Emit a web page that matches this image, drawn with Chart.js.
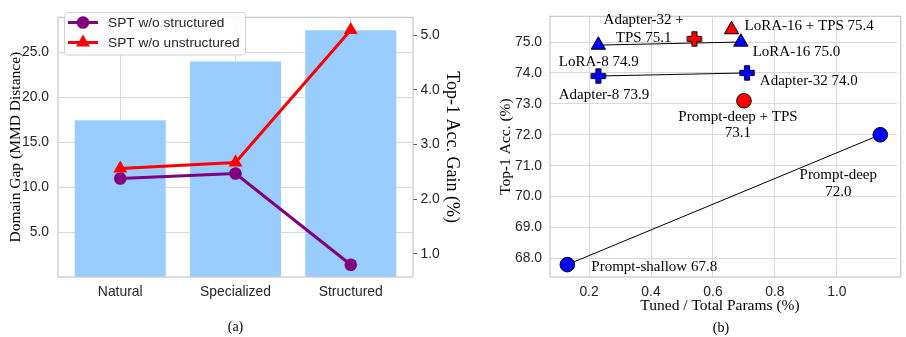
<!DOCTYPE html>
<html lang="en">
<head>
    <meta charset="UTF-8">
    <title>Domain gap and parameter efficiency</title>
    <script src="https://cdn.jsdelivr.net/npm/chart.js"></script>
    <style>
        body { margin: 0; background: #fff; overflow: hidden; }
        #leftChart { position: absolute; left: 0; top: 0; }
        #rightChart { position: absolute; left: 466px; top: 0; }
    </style>
</head>
<body>
    <canvas id="leftChart" width="466" height="337"></canvas>
    <canvas id="rightChart" width="440" height="337"></canvas>

    <script>
        // (a) domain gap vs gain
        const categories = ['Natural', 'Specialized', 'Structured'];
        const domainGap = [17.46, 23.98, 27.47];
        const gainWoStructured = [2.38, 2.47, 0.80];
        const gainWoUnstructured = [2.56, 2.67, 5.10];
        const gapTicks = [5, 10, 15, 20, 25];
        const gainTicks = [1, 2, 3, 4, 5];

        // (b) accuracy vs tuned params
        const methodNames = ['Prompt-shallow', 'Prompt-deep', 'Prompt-deep + TPS',
            'Adapter-8', 'Adapter-32', 'Adapter-32 + TPS',
            'LoRA-8', 'LoRA-16', 'LoRA-16 + TPS'];
        const tunedParams = [0.13, 1.14, 0.70, 0.23, 0.71, 0.54, 0.23, 0.69, 0.66];
        const top1Acc = [67.8, 72.0, 73.1, 73.9, 74.0, 75.1, 74.9, 75.0, 75.4];
        const linkedPairs = [[0, 1], [3, 4], [6, 7]];
        const accTicks = [68, 69, 70, 71, 72, 73, 74, 75];
        const paramTicks = [0.2, 0.4, 0.6, 0.8, 1.0];

        const SANS = '"Liberation Sans", Arial, sans-serif';
        const SERIF = '"Liberation Serif", "Times New Roman", serif';
        const GRID = '#d9d9d9';
        const FRAME = '#cccccc';
        const TICK_COLOR = '#262626';

        Chart.defaults.font.family = SANS;
        Chart.defaults.font.size = 13.9;
        Chart.defaults.color = TICK_COLOR;

        const markerStyle = ['circle', 'circle', 'circle', 'plus', 'plus', 'plus', 'triangle', 'triangle', 'triangle'];
        const markerColor = ['#0000ff', '#0000ff', '#ff0000', '#0000ff', '#0000ff', '#ff0000', '#0000ff', '#0000ff', '#ff0000'];
        // label offsets from the point (px), wrap = words on first line
        const labelLayout = [
            { dx: 24, dy: 2, align: 'left' },
            { dx: -42, dy: 40, align: 'center', wrap: 1, lh: 17.5 },
            { dx: -6, dy: 16.7, align: 'center', wrap: 3, lh: 16 },
            { dx: -39.6, dy: 19.5, align: 'left' },
            { dx: 12.8, dy: 7.7, align: 'left' },
            { dx: -50.7, dy: -19.2, align: 'center', wrap: 2, lh: 18 },
            { dx: -39.6, dy: 17.4, align: 'left' },
            { dx: 11.8, dy: 10, align: 'left' },
            { dx: 13, dy: -3.8, align: 'left' }
        ];

        function plusMarker(fill) {
            const c = document.createElement('canvas');
            c.width = 18; c.height = 18;
            const g = c.getContext('2d');
            const m = 9, a = 7.2, t = 2.6;
            g.beginPath();
            g.moveTo(m - t, m - a); g.lineTo(m + t, m - a); g.lineTo(m + t, m - t); g.lineTo(m + a, m - t);
            g.lineTo(m + a, m + t); g.lineTo(m + t, m + t); g.lineTo(m + t, m + a); g.lineTo(m - t, m + a);
            g.lineTo(m - t, m + t); g.lineTo(m - a, m + t); g.lineTo(m - a, m - t); g.lineTo(m - t, m - t);
            g.closePath();
            g.fillStyle = fill; g.fill();
            g.strokeStyle = '#000'; g.lineWidth = 1; g.stroke();
            return c;
        }

        function fixTicks(values) {
            return scale => { scale.ticks = values.map(v => ({ value: v })); };
        }

        const framePlugin = {
            id: 'frame',
            afterDatasetsDraw(chart, args, opts) {
                const a = chart.chartArea;
                const ctx = chart.ctx;
                ctx.save();
                ctx.strokeStyle = FRAME;
                ctx.lineWidth = 1.3;
                ctx.strokeRect(a.left, a.top, a.right - a.left + (opts.extendRight || 0), a.bottom - a.top);
                ctx.restore();
            }
        };

        function roundRect(ctx, x, y, w, h, r) {
            ctx.beginPath();
            ctx.moveTo(x + r, y);
            ctx.arcTo(x + w, y, x + w, y + h, r);
            ctx.arcTo(x + w, y + h, x, y + h, r);
            ctx.arcTo(x, y + h, x, y, r);
            ctx.arcTo(x, y, x + w, y, r);
            ctx.closePath();
        }

        const legendBox = {
            id: 'legendBox',
            afterDatasetsDraw(chart) {
                const ctx = chart.ctx;
                const sets = chart.data.datasets.filter(d => d.type === 'line').reverse();
                ctx.save();
                roundRect(ctx, 64.5, 12.5, 181, 42.5, 3);
                ctx.fillStyle = 'rgba(255,255,255,0.85)';
                ctx.fill();
                ctx.strokeStyle = '#d0d0d0';
                ctx.lineWidth = 1;
                ctx.stroke();
                sets.forEach((ds, i) => {
                    const y = 22.5 + i * 20;
                    ctx.strokeStyle = ds.borderColor;
                    ctx.lineWidth = ds.borderWidth;
                    ctx.beginPath();
                    ctx.moveTo(68, y); ctx.lineTo(98, y);
                    ctx.stroke();
                    ctx.fillStyle = ds.backgroundColor;
                    Chart.helpers.drawPoint(ctx, { pointStyle: ds.pointStyle, radius: ds.pointRadius, borderWidth: 0, rotation: 0 }, 83, y);
                    ctx.fillStyle = TICK_COLOR;
                    ctx.font = '13.7px ' + SANS;
                    ctx.textBaseline = 'middle';
                    ctx.textAlign = 'left';
                    ctx.fillText(ds.label, 108, y + 0.5);
                });
                ctx.restore();
            }
        };

        new Chart(document.getElementById('leftChart'), {
            type: 'bar',
            data: {
                datasets: [
                    {
                        type: 'line',
                        label: 'SPT w/o unstructured',
                        data: gainWoUnstructured.map((v, i) => ({ x: i, y: v })),
                        borderColor: '#ff0000',
                        backgroundColor: '#ff0000',
                        borderWidth: 3,
                        pointStyle: 'triangle',
                        pointRadius: 8,
                        pointBorderWidth: 0,
                        yAxisID: 'y1',
                        order: 0
                    },
                    {
                        type: 'line',
                        label: 'SPT w/o structured',
                        data: gainWoStructured.map((v, i) => ({ x: i, y: v })),
                        borderColor: '#800080',
                        backgroundColor: '#800080',
                        borderWidth: 3,
                        pointStyle: 'circle',
                        pointRadius: 6.3,
                        pointBorderWidth: 0,
                        yAxisID: 'y1',
                        order: 1
                    },
                    {
                        type: 'bar',
                        label: 'Domain Gap',
                        data: domainGap.map((v, i) => ({ x: i, y: v })),
                        backgroundColor: '#99ccff',
                        borderWidth: 0,
                        barPercentage: 0.79,
                        categoryPercentage: 1,
                        yAxisID: 'y',
                        order: 3
                    }
                ]
            },
            options: {
                responsive: false,
                animation: false,
                layout: { padding: { top: 5, left: 0, right: 0, bottom: 0 } },
                scales: {
                    x: {
                        type: 'linear',
                        min: -0.54,
                        max: 2.54,
                        offset: false,
                        grid: { color: GRID, offset: false, drawTicks: false },
                        border: { display: false },
                        afterBuildTicks: fixTicks([0, 1, 2]),
                        afterFit: s => { s.height = 42.2; },
                        ticks: { padding: 6.6, callback: v => categories[v] }
                    },
                    y: {
                        position: 'left',
                        min: 0,
                        max: 28.9,
                        grid: { color: GRID, drawTicks: false },
                        border: { display: false },
                        afterBuildTicks: fixTicks(gapTicks),
                        afterFit: s => { s.width = 58; },
                        ticks: { padding: 9, callback: v => v.toFixed(1) },
                        title: {
                            display: true,
                            text: 'Domain Gap (MMD Distance)',
                            color: '#000',
                            font: { family: SERIF, size: 15.5 },
                            padding: { top: 7, bottom: 0 }
                        }
                    },
                    y1: {
                        position: 'right',
                        min: 0.575,
                        max: 5.33,
                        grid: { drawOnChartArea: false, drawTicks: true, tickLength: 4, tickColor: '#555' },
                        border: { display: false },
                        afterBuildTicks: fixTicks(gainTicks),
                        afterFit: s => { s.width = 53; },
                        ticks: { padding: 3.5, callback: v => v.toFixed(1) },
                        title: {
                            display: true,
                            text: 'Top-1 Acc. Gain (%)',
                            color: '#000',
                            font: { family: SERIF, size: 18 },
                            padding: { top: 3, bottom: 0 }
                        }
                    }
                },
                plugins: {
                    legend: { display: false },
                    tooltip: { enabled: false },
                    title: {
                        display: true,
                        text: '(a)',
                        position: 'bottom',
                        fullSize: false,
                        color: '#000',
                        font: { family: SERIF, size: 14, weight: 'normal' },
                        padding: { top: 0, bottom: 1 }
                    }
                }
            },
            plugins: [framePlugin, legendBox]
        });

        const pointLabels = {
            id: 'pointLabels',
            afterDatasetsDraw(chart) {
                const { ctx, scales: { x, y } } = chart;
                ctx.save();
                ctx.font = '15px ' + SERIF;
                ctx.fillStyle = '#000';
                ctx.textBaseline = 'middle';
                methodNames.forEach((name, i) => {
                    const L = labelLayout[i];
                    const words = (name + ' ' + top1Acc[i].toFixed(1)).split(' ');
                    const lines = L.wrap ? [words.slice(0, L.wrap).join(' '), words.slice(L.wrap).join(' ')] : [words.join(' ')];
                    const px = x.getPixelForValue(tunedParams[i]) + L.dx;
                    const py = y.getPixelForValue(top1Acc[i]) + L.dy;
                    ctx.textAlign = L.align;
                    lines.forEach((t, k) => ctx.fillText(t, px, py + k * (L.lh || 17)));
                });
                // x title and panel caption
                ctx.textAlign = 'center';
                ctx.font = '15.5px ' + SERIF;
                ctx.fillText('Tuned / Total Params (%)', 254, 305.7);
                ctx.font = '14px ' + SERIF;
                ctx.fillText('(b)', 255, 328);
                ctx.restore();
            }
        };

        const linkSets = linkedPairs.map(([a, b]) => ({
            type: 'line',
            data: [{ x: tunedParams[a], y: top1Acc[a] }, { x: tunedParams[b], y: top1Acc[b] }],
            borderColor: '#000',
            borderWidth: 1,
            pointRadius: 0,
            showLine: true,
            order: 5
        }));

        const pointSets = methodNames.map((name, i) => ({
            label: name,
            data: [{ x: tunedParams[i], y: top1Acc[i] }],
            pointStyle: markerStyle[i] === 'plus' ? plusMarker(markerColor[i]) : markerStyle[i],
            pointRadius: markerStyle[i] === 'triangle' ? 8.3 : 7.3,
            pointBackgroundColor: markerColor[i],
            pointBorderColor: '#000',
            pointBorderWidth: 1,
            order: 1
        }));

        new Chart(document.getElementById('rightChart'), {
            type: 'scatter',
            data: { datasets: linkSets.concat(pointSets) },
            options: {
                responsive: false,
                animation: false,
                layout: { padding: { top: 5, left: 0, right: 0, bottom: 0 } },
                scales: {
                    x: {
                        type: 'linear',
                        min: 0.074,
                        max: 1.193,
                        grid: { color: GRID, drawTicks: false },
                        border: { display: false },
                        afterBuildTicks: fixTicks(paramTicks),
                        afterFit: s => { s.height = 60; },
                        ticks: { padding: 6.6, callback: v => v.toFixed(1) }
                    },
                    y: {
                        min: 67.4,
                        max: 75.83,
                        grid: { color: GRID, drawTicks: false },
                        border: { display: false },
                        afterBuildTicks: fixTicks(accTicks),
                        afterFit: s => { s.width = 84; },
                        ticks: { padding: 8, callback: v => v.toFixed(1) },
                        title: {
                            display: true,
                            text: 'Top-1 Acc. (%)',
                            color: '#000',
                            font: { family: SERIF, size: 15.5 },
                            padding: { top: 30.7, bottom: 0 }
                        }
                    }
                },
                plugins: {
                    legend: { display: false },
                    tooltip: { enabled: false },
                    frame: { extendRight: 4 }
                }
            },
            plugins: [framePlugin, pointLabels]
        });
    </script>
</body>
</html>
